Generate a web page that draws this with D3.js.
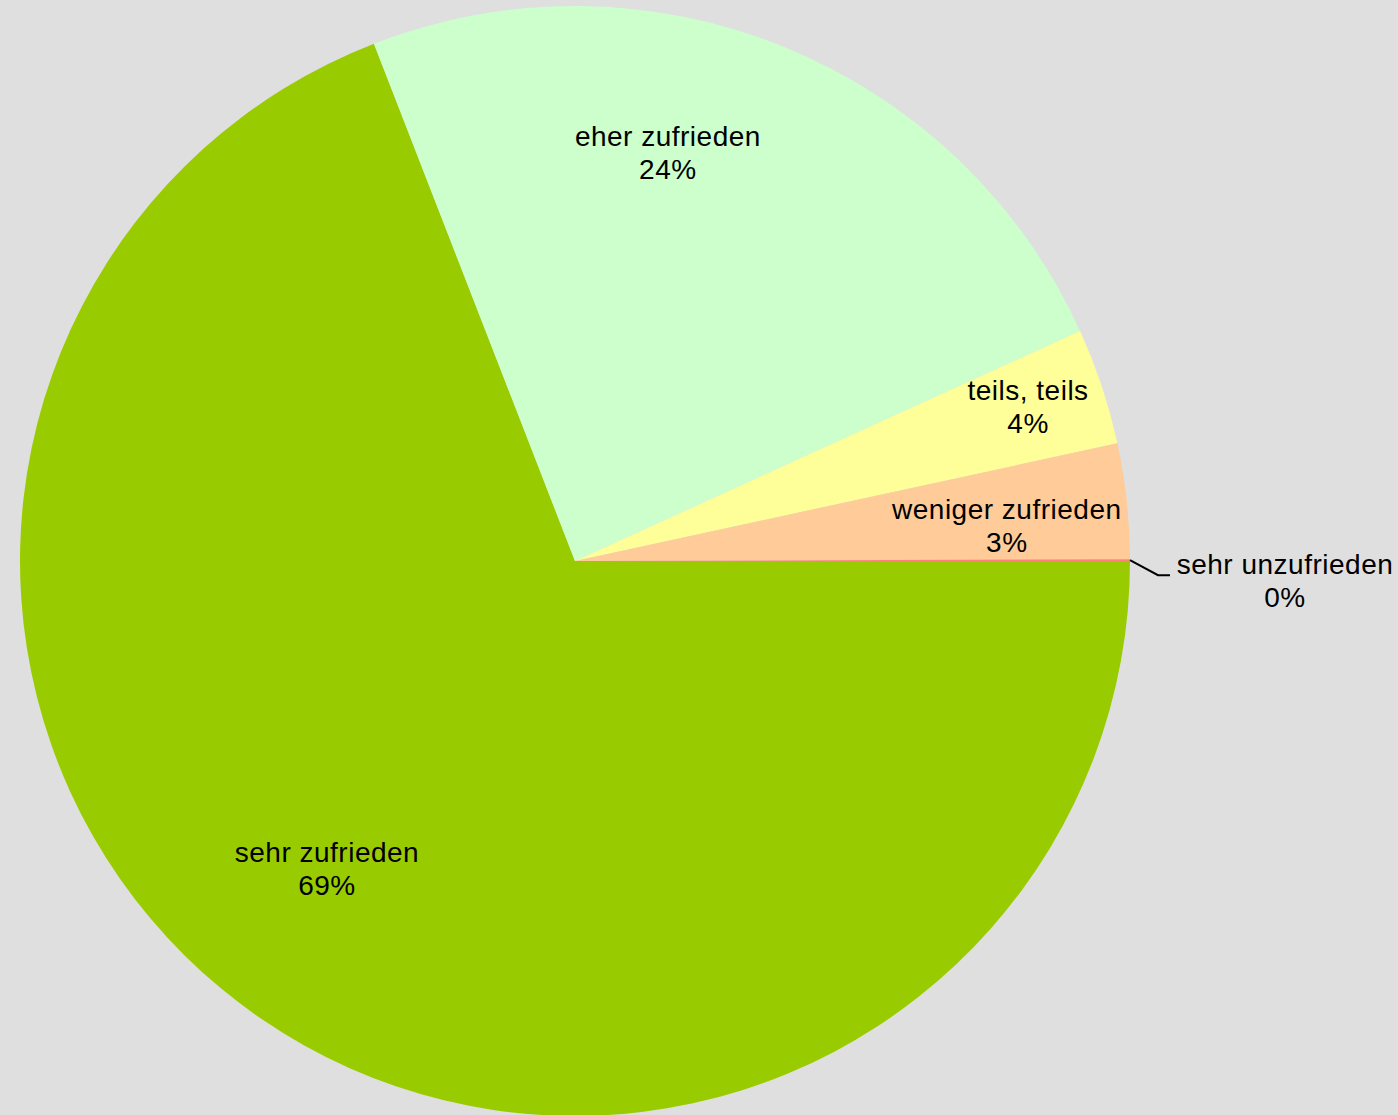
<!DOCTYPE html>
<html>
<head>
<meta charset="utf-8">
<script src="https://cdn.jsdelivr.net/npm/d3@7"></script>
<style>
  body { margin: 0; background: #dfdfdf; }
  svg { display: block; }
</style>
</head>
<body>
<div id="chart"></div>
<script>
// data
const categories = ["sehr zufrieden", "eher zufrieden", "teils, teils", "weniger zufrieden", "sehr unzufrieden"];
const values = [69.1, 24.1, 3.4, 3.35, 0.05];
const pctLabels = ["69%", "24%", "4%", "3%", "0%"];
const colors = ["#99cc00", "#ccffcc", "#ffff99", "#ffcc99", "#ff8080"];

// label nudges from the slice centroid (px)
const labelNudge = [[-13, -43], [-64, -29], [58, -30], [18, 3], null];

const width = 1398, height = 1115;
const cx = 575, cy = 561, radius = 555;
const lineH = 33;

const svg = d3.select("#chart")
    .append("svg")
    .attr("width", width)
    .attr("height", height);

svg.append("rect")
    .attr("width", width)
    .attr("height", height)
    .attr("fill", "#dfdfdf");

const g = svg.append("g").attr("transform", `translate(${cx},${cy})`);

const data = categories.map((c, i) => ({name: c, value: values[i], pct: pctLabels[i], color: colors[i], idx: i}));

const pie = d3.pie()
    .sort(null)
    .value(d => d.value)
    .startAngle(Math.PI / 2)
    .endAngle(Math.PI / 2 + 2 * Math.PI);

const arc = d3.arc().innerRadius(0).outerRadius(radius);
const labelArc = d3.arc().innerRadius(radius * 0.75).outerRadius(radius * 0.75);

const arcs = pie(data);

g.selectAll("path.slice")
    .data(arcs)
    .enter()
    .append("path")
    .attr("class", "slice")
    .attr("d", arc)
    .attr("fill", d => d.data.color);

const font = "Liberation Sans, Arial, sans-serif";

// labels
arcs.forEach(d => {
    const nudge = labelNudge[d.data.idx];
    let x, y;
    if (nudge) {
        const c = labelArc.centroid(d);
        x = c[0] + nudge[0];
        y = c[1] + nudge[1];
    } else {
        // outside label with leader line
        const mid = (d.startAngle + d.endAngle) / 2;
        const p0 = [Math.sin(mid) * radius, -Math.cos(mid) * radius];
        const p1 = [p0[0] + 28, p0[1] + 15];
        const p2 = [p1[0] + 12, p1[1]];
        g.append("polyline")
            .attr("points", [p0, p1, p2].map(p => p.join(",")).join(" "))
            .attr("fill", "none")
            .attr("stroke", "#000")
            .attr("stroke-width", 2);
        x = p2[0] + 115;
        y = p2[1] - 1;
    }
    const t = g.append("text")
        .attr("text-anchor", "middle")
        .attr("font-family", font)
        .attr("font-size", "28px")
        .attr("letter-spacing", "0.5px")
        .attr("fill", "#000");
    t.append("tspan").attr("x", x).attr("y", y).text(d.data.name);
    t.append("tspan").attr("x", x).attr("y", y + lineH).text(d.data.pct);
});
</script>
</body>
</html>
